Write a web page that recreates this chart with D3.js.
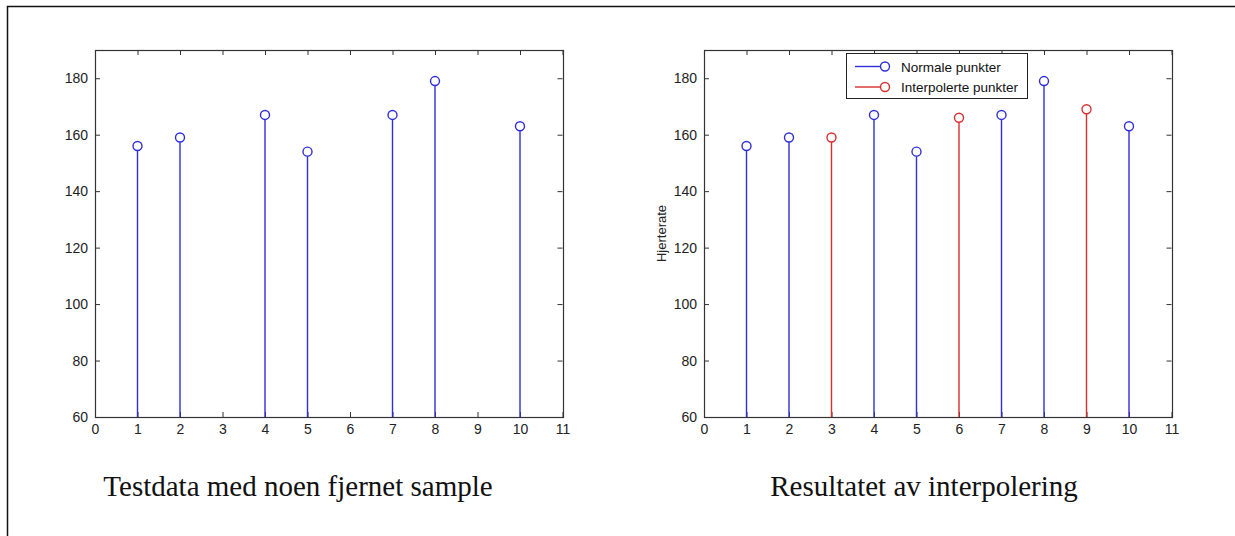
<!DOCTYPE html>
<html>
<head>
<meta charset="utf-8">
<script src="https://cdn.jsdelivr.net/npm/d3@7"></script>
<style>
  body { margin: 0; background: #fff; }
  svg { display: block; }
  .tick text { font-family: "Liberation Sans", Arial, sans-serif; }
</style>
</head>
<body>
<div id="chart"></div>
<script>
// data
const measuredX = [1, 2, 4, 5, 7, 8, 10];
const measuredY = [156, 159, 167, 154, 167, 179, 163];
const interpX = [3, 6, 9];
const interpY = [159, 166, 169];
const xTicks = [0, 1, 2, 3, 4, 5, 6, 7, 8, 9, 10, 11];
const yTicks = [60, 80, 100, 120, 140, 160, 180];
const captions = ["Testdata med noen fjernet sample", "Resultatet av interpolering"];
const legendLabels = ["Normale punkter", "Interpolerte punkter"];

const width = 1235;
const height = 536;

const svg = d3.select("#chart")
    .append("svg")
    .attr("width", width)
    .attr("height", height);

// outer frame (top and left only, the rest is cropped off)
svg.append("path")
    .attr("d", `M7.5,${height} L7.5,6.5 L${width},6.5`)
    .attr("fill", "none")
    .attr("stroke", "#111")
    .attr("stroke-width", 1.5);

const blue = "#2f2fd8";
const red = "#d82f2f";

function drawPanel(left, caption, captionX, withInterp) {
    let plot = { left: left, right: left + 467.5, top: 50, bottom: 417 };

    let x = d3.scaleLinear().domain([0, 11]).range([plot.left, plot.right]);
    let y = d3.scaleLinear().domain([60, 190]).range([plot.bottom, plot.top]);

    let g = svg.append("g");

    let series = [{ xs: measuredX, ys: measuredY, color: blue }];
    if (withInterp) series.push({ xs: interpX, ys: interpY, color: red });

    // axes, MATLAB-style with inward ticks on all four sides
    const axisColor = "#333";
    let bottom = g.append("g")
        .attr("transform", `translate(0,${plot.bottom})`)
        .call(d3.axisBottom(x).tickValues(xTicks).tickSizeInner(-5).tickSizeOuter(0).tickPadding(7));
    let leftAx = g.append("g")
        .attr("transform", `translate(${plot.left},0)`)
        .call(d3.axisLeft(y).tickValues(yTicks).tickSizeInner(-5).tickSizeOuter(0).tickPadding(7));
    let top = g.append("g")
        .attr("transform", `translate(0,${plot.top})`)
        .call(d3.axisTop(x).tickValues(xTicks).tickSizeInner(-5).tickSizeOuter(0).tickFormat(""));
    let rightAx = g.append("g")
        .attr("transform", `translate(${plot.right},0)`)
        .call(d3.axisRight(y).tickValues(yTicks).tickSizeInner(-5).tickSizeOuter(0).tickFormat(""));

    [bottom, leftAx, top, rightAx].forEach((a) => {
        a.select(".domain").remove();
        a.selectAll(".tick line").attr("stroke", axisColor);
        a.selectAll(".tick text")
            .attr("fill", "#222")
            .style("font-size", "14px");
    });

    // stems and markers
    series.forEach((s) => {
        let pts = s.xs.map((d, i) => ({ x: d, y: s.ys[i] }));
        g.append("g").selectAll("line")
            .data(pts)
            .join("line")
            .attr("x1", (d) => x(d.x))
            .attr("x2", (d) => x(d.x))
            .attr("y1", y(60))
            .attr("y2", (d) => y(d.y) + 4.5)
            .attr("stroke", s.color)
            .attr("stroke-width", 1.4);
        g.append("g").selectAll("circle")
            .data(pts)
            .join("circle")
            .attr("cx", (d) => x(d.x))
            .attr("cy", (d) => y(d.y))
            .attr("r", 4.5)
            .attr("fill", "none")
            .attr("stroke", s.color)
            .attr("stroke-width", 1.4);
    });

    g.append("rect")
        .attr("x", plot.left + 0.5)
        .attr("y", plot.top + 0.5)
        .attr("width", Math.round(plot.right - plot.left))
        .attr("height", Math.round(plot.bottom - plot.top))
        .attr("fill", "none")
        .attr("stroke", axisColor)
        .attr("stroke-width", 1.2);

    // caption below the plot
    svg.append("text")
        .attr("x", captionX)
        .attr("y", 496)
        .attr("text-anchor", "middle")
        .style("font-family", "'Liberation Serif', 'DejaVu Serif', serif")
        .style("font-size", "29px")
        .attr("fill", "#111")
        .text(caption);

    return { g: g, x: x, y: y, plot: plot };
}

drawPanel(95, captions[0], 298, false);
let right = drawPanel(704, captions[1], 924, true);

// y label on the right panel
svg.append("text")
    .attr("transform", `translate(666,${(right.plot.top + right.plot.bottom) / 2}) rotate(-90)`)
    .attr("text-anchor", "middle")
    .style("font-family", "'Liberation Sans', Arial, sans-serif")
    .style("font-size", "13px")
    .attr("fill", "#222")
    .text("Hjerterate");

// legend
let legend = svg.append("g").attr("transform", "translate(846,53)");
legend.append("rect")
    .attr("x", 0.5)
    .attr("y", 0.5)
    .attr("width", 181)
    .attr("height", 45)
    .attr("fill", "#fff")
    .attr("stroke", "#222")
    .attr("stroke-width", 1);

[blue, red].forEach((c, i) => {
    let ly = 13.5 + i * 20.5;
    legend.append("line")
        .attr("x1", 9).attr("x2", 35)
        .attr("y1", ly).attr("y2", ly)
        .attr("stroke", c)
        .attr("stroke-width", 1.4);
    legend.append("circle")
        .attr("cx", 39).attr("cy", ly).attr("r", 4.5)
        .attr("fill", "none")
        .attr("stroke", c)
        .attr("stroke-width", 1.4);
    legend.append("text")
        .attr("x", 55)
        .attr("y", ly + 5)
        .style("font-family", "'Liberation Sans', Arial, sans-serif")
        .style("font-size", "13.5px")
        .attr("fill", "#111")
        .text(legendLabels[i]);
});
</script>
</body>
</html>
